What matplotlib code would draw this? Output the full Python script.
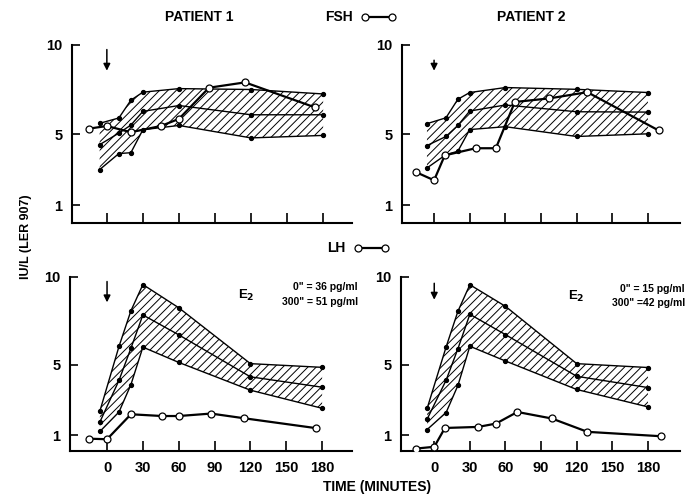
import matplotlib
matplotlib.use("Agg")
import matplotlib.pyplot as plt
from matplotlib.lines import Line2D

plt.rcParams['font.family'] = ['Liberation Sans', 'DejaVu Sans']
plt.rcParams['font.weight'] = 'bold'
plt.rcParams['hatch.linewidth'] = 0.7

# band times (minutes)
band_t = [-6, 10, 20, 30, 60, 120, 180]

# FSH normal range, patient 1 panel
fsh1_up = [5.6, 5.9, 6.9, 7.35, 7.55, 7.5, 7.25]
fsh1_mid = [4.4, 5.05, 5.5, 6.27, 6.6, 6.08, 6.08]
fsh1_low = [3.0, 3.9, 3.95, 5.24, 5.48, 4.78, 4.92]
# FSH normal range, patient 2 panel
fsh2_up = [5.58, 5.91, 6.95, 7.33, 7.61, 7.51, 7.33]
fsh2_mid = [4.35, 4.86, 5.48, 6.29, 6.63, 6.25, 6.23]
fsh2_low = [3.09, 3.84, 4.03, 5.25, 5.41, 4.86, 5.01]
# LH normal range
lh1_up = [2.37, 6.05, 8.08, 9.57, 8.25, 5.07, 4.86]
lh1_mid = [1.75, 4.12, 5.95, 7.84, 6.71, 4.32, 3.73]
lh1_low = [1.21, 2.32, 3.88, 6.01, 5.14, 3.56, 2.53]
lh2_up = [2.52, 6.02, 8.06, 9.56, 8.33, 5.07, 4.85]
lh2_mid = [1.91, 4.13, 5.93, 7.88, 6.72, 4.35, 3.71]
lh2_low = [1.32, 2.29, 3.84, 6.06, 5.22, 3.6, 2.61]

# patients
p1_fsh_t = [-15, 0, 20, 45, 60, 85, 115, 173]
p1_fsh = [5.3, 5.45, 5.1, 5.45, 5.85, 7.6, 7.9, 6.5]
p2_fsh_t = [-15, 0, 9, 35, 52, 68, 97, 129, 189]
p2_fsh = [2.85, 2.4, 3.8, 4.2, 4.2, 6.8, 7.0, 7.35, 5.2]
p1_lh_t = [-15, 0, 20, 46, 60, 87, 115, 175]
p1_lh = [0.8, 0.77, 2.19, 2.09, 2.09, 2.23, 1.96, 1.4]
p2_lh_t = [-15, 0, 9, 37, 52, 70, 99, 129, 191]
p2_lh = [0.24, 0.34, 1.41, 1.47, 1.66, 2.32, 1.95, 1.19, 0.94]

xticks = [0, 30, 60, 90, 120, 150, 180]
yticks = [1, 5, 10]

fig = plt.figure(figsize=(7, 4.96), dpi=100)
W, H = 700, 496


def make_ax(x0, x1, ytop, ybot):
    return fig.add_axes([x0 / W, 1 - ybot / H, (x1 - x0) / W, (ybot - ytop) / H])


panels = [
    (make_ax(72, 352, 45, 223), (-29, 204), 0, band_t, fsh1_up, fsh1_mid, fsh1_low, p1_fsh_t, p1_fsh, False, (9.9, 8.4)),
    (make_ax(402, 680, 45, 223), (-27, 207), 0, band_t, fsh2_up, fsh2_mid, fsh2_low, p2_fsh_t, p2_fsh, False, (9.3, 8.4)),
    (make_ax(70, 352, 277, 451), (-31, 205), 0.1, band_t, lh1_up, lh1_mid, lh1_low, p1_lh_t, p1_lh, True, (9.9, 8.4)),
    (make_ax(401, 680, 277, 451), (-28, 207), 0.1, band_t, lh2_up, lh2_mid, lh2_low, p2_lh_t, p2_lh, True, (9.8, 8.55)),
]

for ax, xl, ybot, t, up, mid, low, pt, pv, labels, arr in panels:
    ax.fill_between(t, low, up, facecolor='none', edgecolor='black', hatch='////', linewidth=0)
    for s in (up, mid, low):
        ax.plot(t, s, color='black', lw=1.0, marker='o', ms=2.8, mfc='black', mec='black')
    ax.plot(pt, pv, color='black', lw=1.6, marker='o', ms=5, mfc='white', mec='black', mew=0.9, zorder=5)
    ax.annotate('', xy=(0, arr[1]), xytext=(0, arr[0]), annotation_clip=False,
                arrowprops=dict(arrowstyle='-|>', color='black', lw=1.1, mutation_scale=10))
    ax.set_xlim(*xl)
    ax.set_ylim(ybot, 10)
    ax.spines['top'].set_visible(False)
    ax.spines['right'].set_visible(False)
    ax.spines['left'].set_linewidth(1.5)
    ax.spines['bottom'].set_linewidth(1.5)
    ax.set_xticks(xticks)
    ax.set_yticks(yticks)
    ax.tick_params(axis='x', direction='in', length=7, width=1.2, pad=7, labelsize=10.5)
    ax.tick_params(axis='y', direction='in', length=6, width=1.2, pad=7, labelsize=10.5)
    if not labels:
        ax.set_xticklabels([])
    ax.patch.set_visible(False)

# E2 notes
fig.text(238 / W, 1 - 295 / H, 'E$_2$', fontsize=9.5, va='center', ha='left')
fig.text(358 / W, 1 - 287 / H, '0" = 36 pg/ml', fontsize=7.5, va='center', ha='right')
fig.text(358 / W, 1 - 302 / H, '300" = 51 pg/ml', fontsize=7.5, va='center', ha='right')
fig.text(568 / W, 1 - 296 / H, 'E$_2$', fontsize=9.5, va='center', ha='left')
fig.text(685 / W, 1 - 289 / H, '0" = 15 pg/ml', fontsize=7.5, va='center', ha='right')
fig.text(685 / W, 1 - 303 / H, '300" =42 pg/ml', fontsize=7.5, va='center', ha='right')

# headings
fig.text(199 / W, 1 - 17 / H, 'PATIENT 1', fontsize=10, ha='center', va='center')
fig.text(531 / W, 1 - 17 / H, 'PATIENT 2', fontsize=10, ha='center', va='center')
fig.text(339 / W, 1 - 17 / H, 'FSH', fontsize=10, ha='center', va='center')
fig.add_artist(Line2D([365 / W, 392 / W], [1 - 17 / H, 1 - 17 / H], transform=fig.transFigure,
                      color='black', lw=1.6, marker='o', ms=5, mfc='white', mec='black', mew=0.9))
fig.text(336 / W, 1 - 248 / H, 'LH', fontsize=10, ha='center', va='center')
fig.add_artist(Line2D([358 / W, 385 / W], [1 - 248 / H, 1 - 248 / H], transform=fig.transFigure,
                      color='black', lw=1.6, marker='o', ms=5, mfc='white', mec='black', mew=0.9))

fig.text(26 / W, 1 - 237 / H, 'IU/L (LER 907)', rotation=90, fontsize=9, ha='center', va='center')
fig.text(377 / W, 1 - 487 / H, 'TIME (MINUTES)', fontsize=10, ha='center', va='center')

fig.savefig('out.png', dpi=100)
